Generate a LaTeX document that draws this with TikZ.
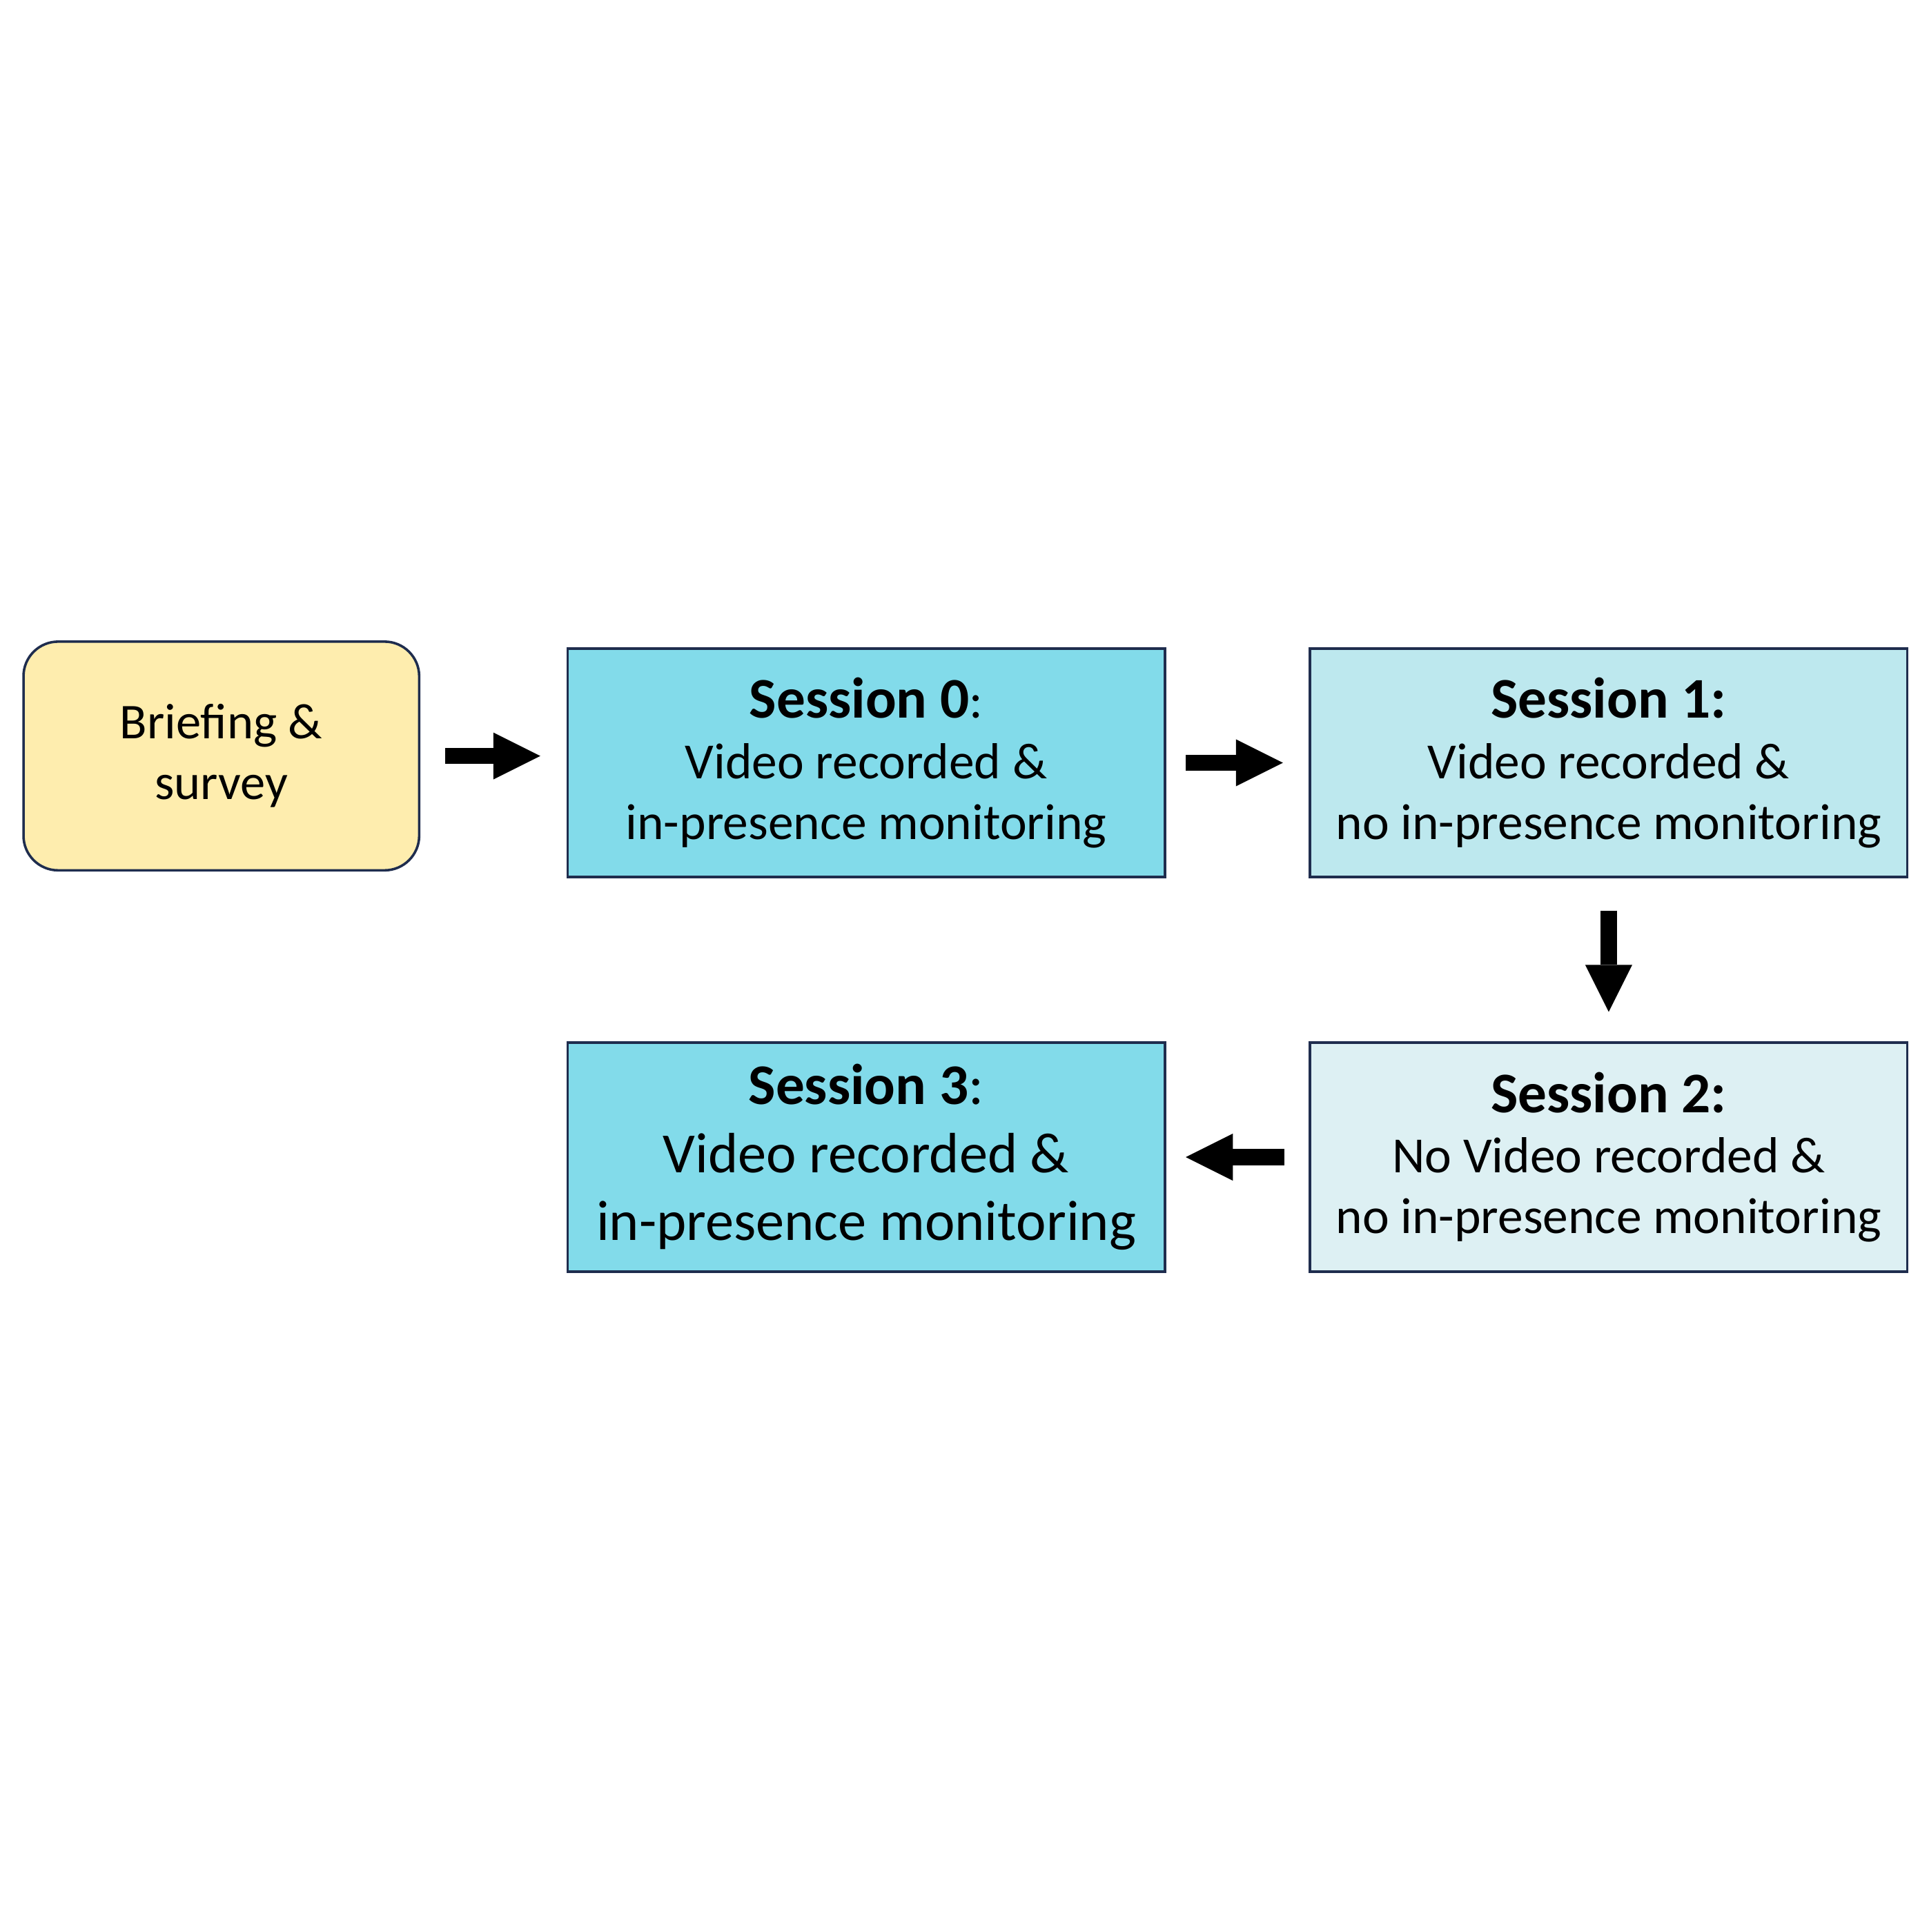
\documentclass[tikz,border=0pt]{standalone}
\usepackage{fontspec}
\setmainfont{Carlito}
\usepackage{tikz}
\usetikzlibrary{positioning,arrows.meta}

\definecolor{sessA}{RGB}{130,219,234}
\definecolor{sessB}{RGB}{189,232,238}
\definecolor{sessC}{RGB}{221,240,243}
\definecolor{briefcol}{RGB}{254,237,174}
\definecolor{navy}{RGB}{31,45,78}

\begin{document}
\begin{tikzpicture}[x=1pt,y=-1pt,node distance=600.5pt,on grid,
    box/.style={draw=navy,line width=2pt,minimum width=483pt,minimum height=185pt,
      align=center,font=\fontsize{41}{49}\selectfont},
    flow/.style={line width=13pt,-{Triangle[length=38pt,width=38pt,line width=0pt]},
      shorten <=18pt,shorten >=21pt}]
  \useasboundingbox (0,0) rectangle (1560,1562.8);

  \node[box,fill=sessA] (s_0) at (700.5,617)
    {{\fontsize{46.5}{49}\selectfont\bfseries Session 0}:\\Video recorded \&\\in-presence monitoring};
  \node[box,fill=sessB] (s_1) [right=of s_0]
    {{\fontsize{46.5}{49}\selectfont\bfseries Session 1:}\\Video recorded \&\\no in-presence monitoring};
  \node[box,fill=sessC] (s_2) [below=319pt of s_1]
    {{\fontsize{46.5}{49}\selectfont\bfseries Session 2:}\\No Video recorded \&\\no in-presence monitoring};
  \node[box,fill=sessA,font=\fontsize{46}{55}\selectfont] (s_3) [left=of s_2]
    {{\fontsize{46.5}{55}\selectfont\bfseries Session 3}:\\Video recorded \&\\in-presence monitoring};
  \node[box,fill=briefcol,rounded corners=28pt,minimum width=320pt,font=\fontsize{40.5}{49}\selectfont] (brief)
    [left=521.5pt of s_0,yshift=5.5pt] {Briefing \&\\survey};

  \draw[flow,shorten <=20pt] (brief.east) -- (brief.east -| s_0.west);
  \draw[flow,shorten <=16pt] (s_0) -- (s_1);
  \draw[flow,shorten <=26pt,shorten >=24pt] (s_1) -- (s_2);
  \draw[flow,shorten <=20pt,shorten >=16pt] (s_2) -- (s_3);
\end{tikzpicture}
\end{document}
